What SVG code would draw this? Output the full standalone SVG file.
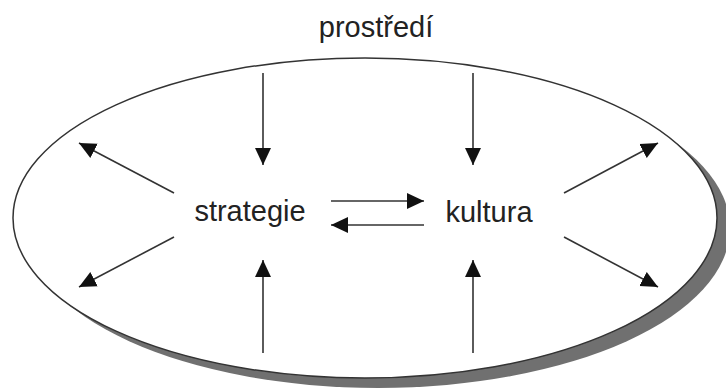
<svg xmlns="http://www.w3.org/2000/svg" width="726" height="388" viewBox="0 0 726 388">
<style>
.lbl{font-family:"Liberation Sans",Arial,sans-serif;font-size:29px;fill:#222}
.c{stroke:#333;stroke-width:1.6;fill:none;marker-end:url(#ah)}
</style>
<defs>
<marker id="ah" markerUnits="userSpaceOnUse" markerWidth="18" markerHeight="18" viewBox="0 0 18 18" refX="17" refY="9" orient="auto">
<path d="M0,1 L17,9 L0,17 Z" fill="#111"/>
</marker>
</defs>
<rect width="726" height="388" fill="#fff"/>
<g id="environment">
<ellipse cx="378" cy="228" rx="352" ry="160" fill="#707070"/>
<ellipse cx="365" cy="218" rx="352" ry="160" fill="#fff" stroke="#333" stroke-width="1.5"/>
<text class="lbl" x="376" y="37" text-anchor="middle">prostředí</text>
</g>
<g id="strategie">
<text class="lbl" x="250" y="221" text-anchor="middle">strategie</text>
</g>
<g id="kultura">
<text class="lbl" x="489" y="222" text-anchor="middle">kultura</text>
</g>
<g id="connectors">
<line class="c" x1="263" y1="73" x2="263" y2="165"/>
<line class="c" x1="473" y1="73" x2="473" y2="165"/>
<line class="c" x1="263" y1="353" x2="263" y2="260"/>
<line class="c" x1="473" y1="353" x2="473" y2="260"/>
<line class="c" x1="174" y1="193" x2="79" y2="143"/>
<line class="c" x1="174" y1="237" x2="79" y2="287"/>
<line class="c" x1="564" y1="193" x2="658" y2="143"/>
<line class="c" x1="564" y1="237" x2="658" y2="287"/>
<line class="c" x1="331" y1="201" x2="424" y2="201"/>
<line class="c" x1="424" y1="225" x2="331" y2="225"/>
</g>
</svg>
